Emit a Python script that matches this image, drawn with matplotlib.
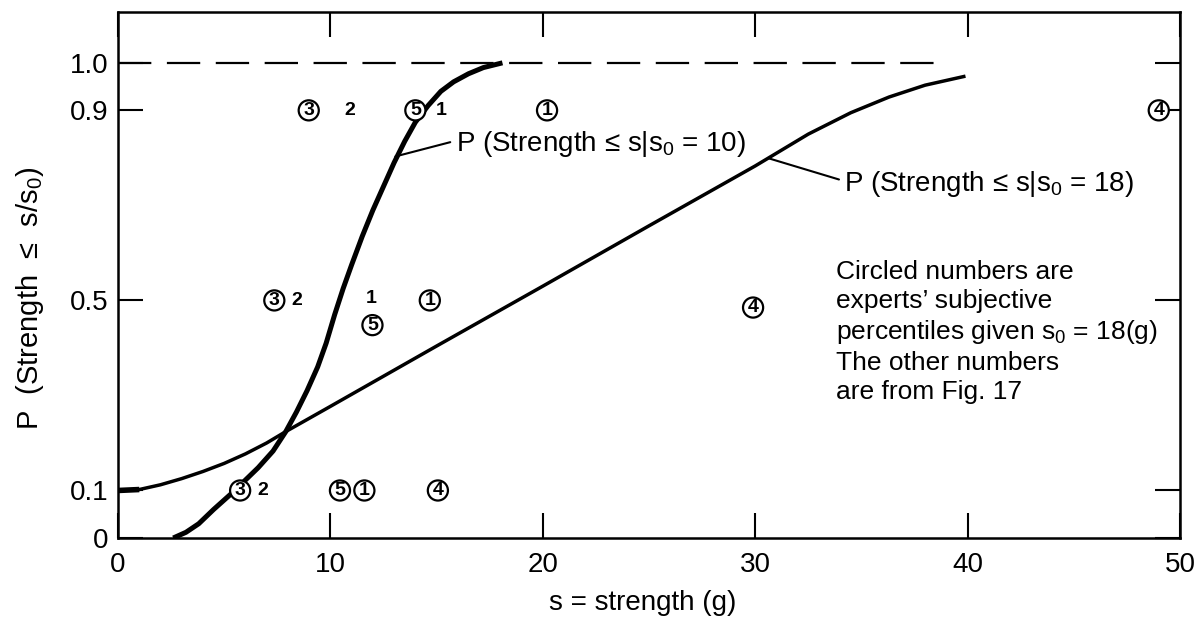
import matplotlib
matplotlib.use("Agg")
import matplotlib.pyplot as plt

plt.rcParams['font.family'] = ['Liberation Sans', 'DejaVu Sans']
plt.rcParams['mathtext.fontset'] = 'custom'
plt.rcParams['mathtext.rm'] = 'Liberation Sans'
plt.rcParams['mathtext.it'] = 'Liberation Sans'
plt.rcParams['mathtext.bf'] = 'Liberation Sans:bold'
plt.rcParams['mathtext.fallback'] = 'stixsans'

# ---- curves: P(Strength <= s | s0) ----
s_10 = [2.6, 3.2, 3.8, 4.5, 5.0, 5.5, 6.0, 6.6, 7.3, 7.9, 8.4, 8.9, 9.4, 9.8,
        10.2, 10.6, 11.0, 11.5, 12.0, 12.5, 13.0, 13.5, 14.0, 14.6, 15.2, 15.8,
        16.5, 17.2, 18.1]
p_10 = [0.0, 0.012, 0.03, 0.06, 0.08, 0.1, 0.122, 0.148, 0.183, 0.224, 0.265,
        0.31, 0.36, 0.41, 0.47, 0.525, 0.575, 0.635, 0.69, 0.74, 0.79, 0.835,
        0.875, 0.91, 0.94, 0.96, 0.977, 0.99, 1.0]

s_18 = [0.0, 1.0, 2.0, 3.0, 4.0, 5.0, 6.0, 7.0, 7.9, 10.0, 15.0, 20.0, 25.0, 30.0,
        32.5, 34.5, 36.3, 38.0, 39.9]
p_18 = [0.1, 0.102, 0.112, 0.125, 0.14, 0.157, 0.177, 0.2, 0.224, 0.277, 0.404,
        0.53, 0.657, 0.783, 0.85, 0.895, 0.928, 0.953, 0.972]

# upper bound line
p_max = 1.0
s_max_line = 38.8

# experts' subjective percentiles (circled) and Fig. 17 values (plain)
circ_labels = ['3', '5', '1', '4', '3', '5', '1', '4', '3', '5', '1', '4']
circ_s = [8.98, 14.0, 20.2, 49.0, 7.36, 11.98, 14.68, 29.9, 5.75, 10.45, 11.6, 15.06]
circ_p = [0.9, 0.9, 0.9, 0.9, 0.5, 0.448, 0.5, 0.485, 0.1, 0.1, 0.1, 0.1]

plain_labels = ['2', '1', '2', '1', '2']
plain_s = [10.93, 15.2, 8.43, 11.92, 6.8]
plain_p = [0.9, 0.9, 0.5, 0.505, 0.1]

xticks = [0, 10, 20, 30, 40, 50]
yticks = [0, 0.1, 0.5, 0.9, 1.0]
ytick_labels = ['0', '0.1', '0.5', '0.9', '1.0']

fig = plt.figure(figsize=(11.99, 6.18), dpi=100)
ax = fig.add_axes([118 / 1199, 80 / 618, 1062 / 1199, 526 / 618])

ax.plot(s_10, p_10, color='black', lw=3.6, solid_capstyle='butt',
        solid_joinstyle='round')
ax.plot(s_18, p_18, color='black', lw=2.5, solid_capstyle='butt',
        solid_joinstyle='round')
# heavier stub where the s0 = 18 curve leaves the axis
ax.plot(s_18[:2], p_18[:2], color='black', lw=4, solid_capstyle='butt')
ax.plot([0, s_max_line], [p_max, p_max], color='black', lw=1.6,
        ls=(0, (15, 7)))

for lab, s, p in zip(circ_labels, circ_s, circ_p):
    ax.text(s, p, lab, fontsize=14, fontweight='bold', ha='center', va='center',
            bbox=dict(boxstyle='circle,pad=0.08', fc='white', ec='black', lw=1.6))
for lab, s, p in zip(plain_labels, plain_s, plain_p):
    ax.text(s, p, lab, fontsize=14, fontweight='bold', ha='center', va='center')

ax.annotate('P (Strength \u2264 s|s$_0$ = 10)', xy=(13.06, 0.803),
            xytext=(15.9, 0.815), fontsize=20, ha='left', va='baseline',
            arrowprops=dict(arrowstyle='-', lw=1.5, color='black',
                            relpos=(0, 0.6), shrinkA=2, shrinkB=0))
ax.annotate('P (Strength \u2264 s|s$_0$ = 18)', xy=(30.64, 0.799),
            xytext=(34.2, 0.73), fontsize=20, ha='left', va='baseline',
            arrowprops=dict(arrowstyle='-', lw=1.5, color='black',
                            relpos=(0, 0.6), shrinkA=2, shrinkB=0))

ax.text(33.8, 0.585,
        "Circled numbers are\nexperts\u2019 subjective\n"
        r"percentiles given s$_0$ = 18(g)" "\nThe other numbers\nare from Fig. 17",
        fontsize=19, ha='left', va='top', linespacing=1.26)

ax.set_xlim(0, 50)
ax.set_ylim(0, 1.107)
ax.set_xticks(xticks)
ax.set_yticks(yticks)
ax.set_yticklabels(ytick_labels)
ax.tick_params(direction='in', length=18, width=1.5, top=True, right=True,
               labelsize=20, colors='black')
ax.tick_params(axis='x', pad=10)
ax.tick_params(axis='y', pad=7)
for sp in ax.spines.values():
    sp.set_linewidth(1.8)

ax.set_xlabel('s = strength (g)', fontsize=20, va='center')
ax.xaxis.set_label_coords(0.494, -0.124)
ax.set_ylabel('P  (Strength  \u2264  s/s$_0$)', fontsize=21, va='center')
ax.yaxis.set_label_coords(-0.083, 0.456)

fig.savefig('out.png', dpi=100)
